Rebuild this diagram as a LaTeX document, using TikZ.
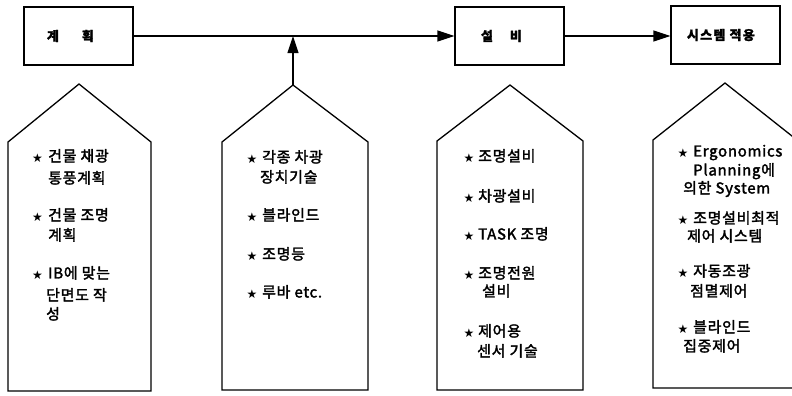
\documentclass[tikz,border=0pt]{standalone}
\usepackage{fontspec}
\setmainfont{Noto Sans CJK KR}
\newfontfamily\krfont[LetterSpace=5,FakeBold=2.2]{Noto Sans CJK KR}
\newfontfamily\krboxfont[LetterSpace=10,FakeBold=1.5]{Noto Sans CJK KR}
\newfontfamily\symfont{DejaVu Sans}
\usetikzlibrary{arrows.meta}
\newcommand\txtfont{\krfont\fontsize{15}{17}\selectfont}
\newcommand\boxfont{\krboxfont\bfseries\fontsize{13}{15}\selectfont}
\newcommand\starfont{\symfont\fontsize{12}{13}\selectfont}
\tikzset{
  stagebox/.style={draw, line width=1.1bp, minimum width=109bp, minimum height=58bp, inner sep=0pt, font=\boxfont},
  tagshape/.style={draw, line width=1.3bp, line join=miter},
  txt/.style={anchor=west, inner sep=0pt, text height=0.8em, text depth=0.1em, font=\txtfont},
  bullet/.style={inner sep=0pt, font=\starfont},
  conn/.style={line width=1.1bp},
  arr/.style={conn, -{Triangle[length=17bp,width=11bp]}}
}
\begin{document}
\begin{tikzpicture}[x=1bp,y=-1bp]
\useasboundingbox (0,0) rectangle (792,395);
% top boxes
\node[stagebox] (plan) at (78.5,36) {\makebox[109bp][l]{\hspace{23bp}계\hspace{23bp}획}};
\node[stagebox] (equip) at (509.5,36) {\makebox[109bp][l]{\hspace{26bp}설\hspace{17bp}비}};
\node[stagebox] (sys) at (725.5,35) {\makebox[109bp][l]{\hspace{16bp}시스템 적용}};
% connectors
\coordinate (join) at (293,36);
\coordinate (p2apex) at (293,85);
\draw[arr] (plan.east) -- (equip.west);
\draw[arr] (equip.east) -- (sys.west |- equip.east);
\draw[arr] (p2apex) -- (join);
% pentagons
\draw[tagshape] (8,391) -- (8,142) -- (79,84) -- (151,142) -- (151,391) -- cycle;
\draw[tagshape] (222,390) -- (222,142) -- (p2apex) -- (368,142) -- (368,390) -- cycle;
\draw[tagshape] (437,390) -- (437,141) -- (510,85) -- (583,141) -- (583,390) -- cycle;
\draw[tagshape] (653,388) -- (653,140) -- (725,83) -- (797,140) -- (797,388) -- cycle;
% column 1
\node[bullet] (s1a) at (37.5,158) {★};
\node[txt] (t1a) at (48,158) {건물 채광};
\node[txt] (t1b) at (48,180) {통풍계획};
\node[bullet] (s1c) at (37.5,217) {★};
\node[txt] (t1c) at (48,217) {건물 조명};
\node[txt] (t1d) at (48,237) {계획};
\node[bullet] (s1e) at (37.5,275) {★};
\node[txt] (t1e) at (48,275) {IB에 맞는};
\node[txt] (t1f) at (46,297) {단면도 작};
\node[txt] (t1g) at (46,316) {성};
% column 2
\node[bullet] (s2a) at (252,159) {★};
\node[txt] (t2a) at (262,159) {각종 차광};
\node[txt] (t2b) at (260,179) {장치기술};
\node[bullet] (s2c) at (252,217) {★};
\node[txt] (t2c) at (262,217) {블라인드};
\node[bullet] (s2d) at (252,256) {★};
\node[txt] (t2d) at (262,256) {조명등};
\node[bullet] (s2e) at (252,294) {★};
\node[txt] (t2e) at (262,294) {루바 etc.};
% column 3
\node[bullet] (s3a) at (469,158) {★};
\node[txt] (t3a) at (478,158) {조명설비};
\node[bullet] (s3b) at (469,198) {★};
\node[txt] (t3b) at (478,198) {차광설비};
\node[bullet] (s3c) at (469,236) {★};
\node[txt] (t3c) at (478,236) {TASK 조명};
\node[bullet] (s3d) at (469,275) {★};
\node[txt] (t3d) at (478,275) {조명전원};
\node[txt] (t3e) at (482,293) {설비};
\node[bullet] (s3f) at (469,333) {★};
\node[txt] (t3f) at (478,333) {제어용};
\node[txt] (t3g) at (477,353) {센서 기술};
% column 4
\node[bullet] (s4a) at (683,153) {★};
\node[txt] (t4a) at (693,153) {Ergonomics};
\node[txt] (t4b) at (693,172) {Planning에};
\node[txt] (t4c) at (683,190) {의한 System};
\node[bullet] (s4d) at (683,220) {★};
\node[txt] (t4d) at (693,220) {조명설비최적};
\node[txt] (t4e) at (687,238) {제어 시스템};
\node[bullet] (s4f) at (683,273) {★};
\node[txt] (t4f) at (693,273) {자동조광};
\node[txt] (t4g) at (690,293) {점멸제어};
\node[bullet] (s4h) at (683,329) {★};
\node[txt] (t4h) at (693,329) {블라인드};
\node[txt] (t4i) at (683,348) {집중제어};
\end{tikzpicture}
\end{document}
